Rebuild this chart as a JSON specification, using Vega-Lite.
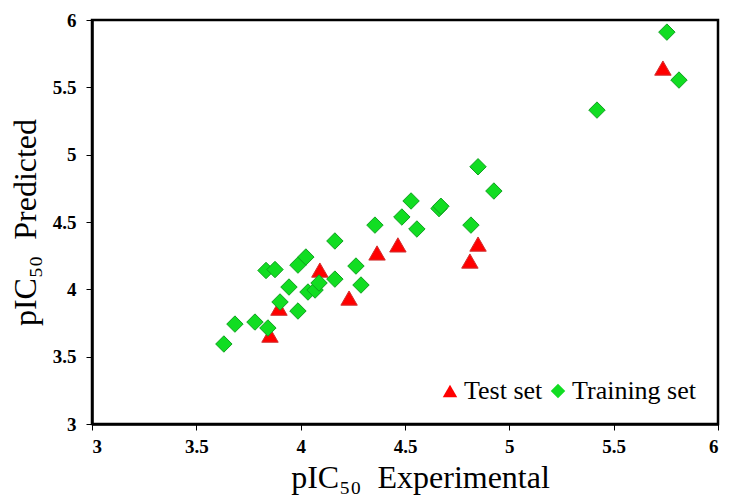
{
  "$schema": "https://vega.github.io/schema/vega-lite/v6.json",
  "width": 626,
  "height": 404,
  "autosize": {"type": "none"},
  "padding": {"left": 92, "top": 20, "right": 11, "bottom": 79},
  "background": "white",
  "config": {
    "view": {"stroke": "black", "strokeWidth": 2.5},
    "font": "Liberation Serif"
  },
  "data": {
    "values": [
      {"exp": 3.853, "pred": 3.66, "set": "Test set"},
      {"exp": 3.896, "pred": 3.86, "set": "Test set"},
      {"exp": 4.092, "pred": 4.143, "set": "Test set"},
      {"exp": 4.232, "pred": 3.935, "set": "Test set"},
      {"exp": 4.366, "pred": 4.27, "set": "Test set"},
      {"exp": 4.466, "pred": 4.33, "set": "Test set"},
      {"exp": 4.85, "pred": 4.336, "set": "Test set"},
      {"exp": 4.811, "pred": 4.21, "set": "Test set"},
      {"exp": 5.736, "pred": 5.643, "set": "Test set"},
      {"exp": 3.632, "pred": 3.594, "set": "Training set"},
      {"exp": 3.685, "pred": 3.742, "set": "Training set"},
      {"exp": 3.781, "pred": 3.757, "set": "Training set"},
      {"exp": 3.843, "pred": 3.713, "set": "Training set"},
      {"exp": 3.834, "pred": 4.14, "set": "Training set"},
      {"exp": 3.877, "pred": 4.147, "set": "Training set"},
      {"exp": 3.901, "pred": 3.906, "set": "Training set"},
      {"exp": 3.944, "pred": 4.017, "set": "Training set"},
      {"exp": 3.987, "pred": 4.18, "set": "Training set"},
      {"exp": 3.987, "pred": 3.839, "set": "Training set"},
      {"exp": 4.025, "pred": 4.24, "set": "Training set"},
      {"exp": 4.035, "pred": 3.98, "set": "Training set"},
      {"exp": 4.069, "pred": 3.995, "set": "Training set"},
      {"exp": 4.088, "pred": 4.047, "set": "Training set"},
      {"exp": 4.164, "pred": 4.076, "set": "Training set"},
      {"exp": 4.164, "pred": 4.359, "set": "Training set"},
      {"exp": 4.265, "pred": 4.173, "set": "Training set"},
      {"exp": 4.289, "pred": 4.032, "set": "Training set"},
      {"exp": 4.356, "pred": 4.477, "set": "Training set"},
      {"exp": 4.485, "pred": 4.537, "set": "Training set"},
      {"exp": 4.529, "pred": 4.656, "set": "Training set"},
      {"exp": 4.557, "pred": 4.448, "set": "Training set"},
      {"exp": 4.663, "pred": 4.6, "set": "Training set"},
      {"exp": 4.672, "pred": 4.617, "set": "Training set"},
      {"exp": 4.816, "pred": 4.477, "set": "Training set"},
      {"exp": 4.85, "pred": 4.91, "set": "Training set"},
      {"exp": 4.926, "pred": 4.73, "set": "Training set"},
      {"exp": 5.42, "pred": 5.331, "set": "Training set"},
      {"exp": 5.755, "pred": 5.91, "set": "Training set"},
      {"exp": 5.813, "pred": 5.554, "set": "Training set"}
    ]
  },
  "mark": {"type": "point", "filled": true, "opacity": 1, "strokeWidth": 1},
  "encoding": {
    "x": {
      "field": "exp", "type": "quantitative",
      "scale": {"domain": [3, 6], "nice": false, "zero": false},
      "axis": {
        "title": "pIC₅₀\u00a0\u00a0Experimental", "values": [3, 3.5, 4, 4.5, 5, 5.5, 6], "format": "~g",
        "grid": false, "domainColor": "black", "domainWidth": 2.5,
        "tickColor": "black", "tickSize": 6, "tickWidth": 1,
        "labelFont": "Times New Roman, Liberation Serif, serif", "labelFontWeight": "bold", "labelFontSize": 19,
        "labelColor": "black", "labelPadding": 7,
        "titleFont": "Liberation Serif", "titleFontWeight": "normal", "titleFontSize": 32,
        "titleColor": "black", "titlePadding": 6, "titleX": 328
      }
    },
    "y": {
      "field": "pred", "type": "quantitative",
      "scale": {"domain": [3, 6], "nice": false, "zero": false},
      "axis": {
        "title": "pIC₅₀\u00a0\u00a0Predicted", "values": [3, 3.5, 4, 4.5, 5, 5.5, 6], "format": "~g",
        "grid": false, "domainColor": "black", "domainWidth": 2.5,
        "tickColor": "black", "tickSize": 6, "tickWidth": 1,
        "labelFont": "Times New Roman, Liberation Serif, serif", "labelFontWeight": "bold", "labelFontSize": 19,
        "labelColor": "black", "labelPadding": 10,
        "titleFont": "Liberation Serif", "titleFontWeight": "normal", "titleFontSize": 32,
        "titleColor": "black", "titlePadding": 10
      }
    },
    "shape": {
      "field": "set", "type": "nominal",
      "scale": {"domain": ["Test set", "Training set"], "range": ["triangle-up", "diamond"]},
      "legend": {
        "title": null, "orient": "none", "legendX": 345, "legendY": 358,
        "direction": "horizontal",
        "labelFont": "Liberation Serif", "labelFontSize": 26, "labelColor": "black",
        "symbolSize": 210, "columnPadding": 2, "labelOffset": 1, "symbolStrokeWidth": 0
      }
    },
    "color": {
      "field": "set", "type": "nominal",
      "scale": {"domain": ["Test set", "Training set"], "range": ["#ff0000", "#11dd22"]},
      "legend": {
        "title": null, "orient": "none", "legendX": 345, "legendY": 358,
        "direction": "horizontal",
        "labelFont": "Liberation Serif", "labelFontSize": 26, "labelColor": "black",
        "symbolSize": 210, "columnPadding": 2, "labelOffset": 1, "symbolStrokeWidth": 0
      }
    },
    "stroke": {
      "field": "set", "type": "nominal",
      "scale": {"domain": ["Test set", "Training set"], "range": ["#d03030", "#10a020"]},
      "legend": null
    },
    "size": {"value": 270}
  }
}
